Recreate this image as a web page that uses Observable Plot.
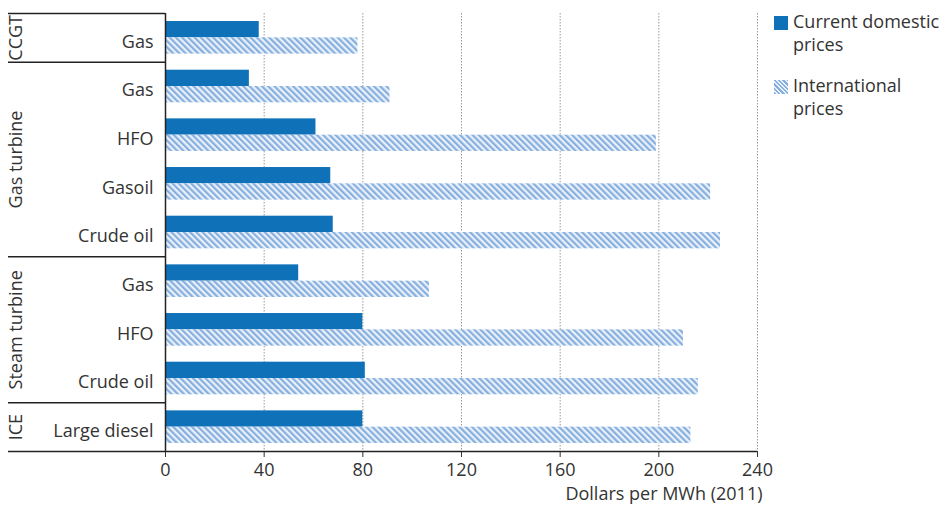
<!DOCTYPE html>
<html>
<head>
<meta charset="utf-8">
<script src="https://cdn.jsdelivr.net/npm/d3@7"></script>
<script src="https://cdn.jsdelivr.net/npm/@observablehq/plot@0.6"></script>
<style>
  html, body { margin: 0; padding: 0; background: #fff; }
  #wrap { position: relative; width: 952px; height: 511px; font-family: "Open Sans", sans-serif; color: #333; }
  #legend { position: absolute; left: 774px; top: 10px; font-size: 18px; line-height: 23px; }
  .item { display: flex; align-items: flex-start; margin-bottom: 18px; }
  .sw { width: 14px; height: 14px; margin-top: 6px; margin-right: 5px; flex: none; }
  .dom { background: #0f71b7; }
  .intl { background: repeating-linear-gradient(45deg, #86afdf 0 1.6px, #eaf1f9 1.6px 3.1px); }
</style>
</head>
<body>
<div id="wrap"><div id="legend"></div></div>
<script>
// ---- data ----
const technology = ["CCGT", "Gas turbine", "Gas turbine", "Gas turbine", "Gas turbine", "Steam turbine", "Steam turbine", "Steam turbine", "ICE"];
const fuel = ["Gas", "Gas", "HFO", "Gasoil", "Crude oil", "Gas", "HFO", "Crude oil", "Large diesel"];
const domestic = [38, 34, 61, 67, 68, 54, 80, 81, 80];
const international = [78, 91, 199, 221, 225, 107, 210, 216, 213];
const xTicks = [0, 40, 80, 120, 160, 200, 240];
const seriesNames = ["Current domestic\nprices", "International\nprices"];
const xLabel = "Dollars per MWh (2011)";

// ---- derived table ----
const rows = fuel.map((f, i) => ({key: technology[i] + "|" + f, tech: technology[i], fuel: f, domestic: domestic[i], international: international[i]}));
const keys = rows.map(d => d.key);
const groupNames = [...new Set(technology)];
const groups = groupNames.map(g => ({name: g, keys: rows.filter(r => r.tech === g).map(r => r.key)}));

// ---- layout ----
const width = 952, height = 511;
const marginTop = 13, marginBottom = 60, marginLeft = 8, marginRight = 195;
const labelPanel = 157;
const xMax = 240;
const padInner = 0.33, padOuter = 0.165;
const step = (height - marginTop - marginBottom) / (keys.length - padInner + 2 * padOuter);
const halfBar = step * (1 - padInner) / 2;
// x value at the left edge of the frame (start of label panel)
const xFrameLeft = -labelPanel * xMax / (width - marginRight - marginLeft - labelPanel);
const ink = "#333";

const defs = () => {
  const d = d3.create("svg:defs");
  const p = d.append("pattern").attr("id", "hatch").attr("patternUnits", "userSpaceOnUse")
    .attr("width", 4.4).attr("height", 4.4).attr("patternTransform", "rotate(-45)");
  p.append("rect").attr("width", 4.4).attr("height", 4.4).attr("fill", "#eaf1f9");
  p.append("rect").attr("width", 2.2).attr("height", 4.4).attr("fill", "#86afdf");
  return d.node();
};

const groupLabelMarks = groups.map(g => {
  const mid = (g.keys.length - 1) / 2;
  const k = Math.floor(mid);
  return Plot.text([g], {
    y: () => g.keys[k], frameAnchor: "left", dx: 8, dy: (mid - k) * step,
    text: d => d.name, rotate: -90, textAnchor: "middle", fill: ink
  });
});

const chart = Plot.plot({
  width, height, marginTop, marginBottom, marginLeft, marginRight,
  style: {fontFamily: "Open Sans, sans-serif", fontSize: "18px", color: ink, background: "#fff"},
  x: {domain: [0, xMax], insetLeft: labelPanel, ticks: xTicks, tickSize: 6, tickPadding: 6, label: null},
  y: {domain: keys, paddingInner: padInner, paddingOuter: padOuter, round: false, axis: null},
  marks: [
    defs,
    Plot.ruleX(xTicks.filter(t => t > 0), {stroke: "#9a9a9a", strokeWidth: 1, strokeDasharray: "1.5,1.5"}),
    Plot.barX(rows, {x: "domestic", y: "key", fill: "#0f71b7", insetBottom: halfBar}),
    Plot.barX(rows, {x: "international", y: "key", fill: "url(#hatch)", insetTop: halfBar}),
    Plot.text(rows, {x: 0, y: "key", text: "fuel", textAnchor: "end", dx: -12, dy: 4, fill: ink}),
    ...groupLabelMarks,
    // short left borders beside the CCGT and ICE labels
    Plot.ruleX([groups[0].keys[0]], {x: xFrameLeft, y: d => d, insetTop: -4, insetBottom: -8, stroke: "#222", strokeWidth: 1.5}),
    Plot.ruleX([groups[3].keys[0]], {x: xFrameLeft, y: d => d, insetTop: 6, insetBottom: 3, stroke: "#222", strokeWidth: 1.5}),
    Plot.ruleY(groups.map(g => g.keys[0]), {dy: -step / 2, x1: xFrameLeft, x2: 0, stroke: "#222", strokeWidth: 1.5}),
    Plot.ruleY([keys[keys.length - 1]], {dy: step / 2, stroke: "#222", strokeWidth: 1.5}),
    Plot.ruleX([0], {stroke: "#222", strokeWidth: 1.5}),
    Plot.text([xLabel], {frameAnchor: "bottom-right", text: d => d, textAnchor: "end", dx: 5, dy: 48, fill: ink})
  ]
});
document.getElementById("wrap").prepend(chart);

// legend
const legend = d3.select("#legend");
seriesNames.forEach((s, i) => {
  const it = legend.append("div").attr("class", "item");
  it.append("div").attr("class", "sw " + (i === 0 ? "dom" : "intl"));
  it.append("div").html(s.replace("\n", "<br>"));
});
</script>
</body>
</html>
